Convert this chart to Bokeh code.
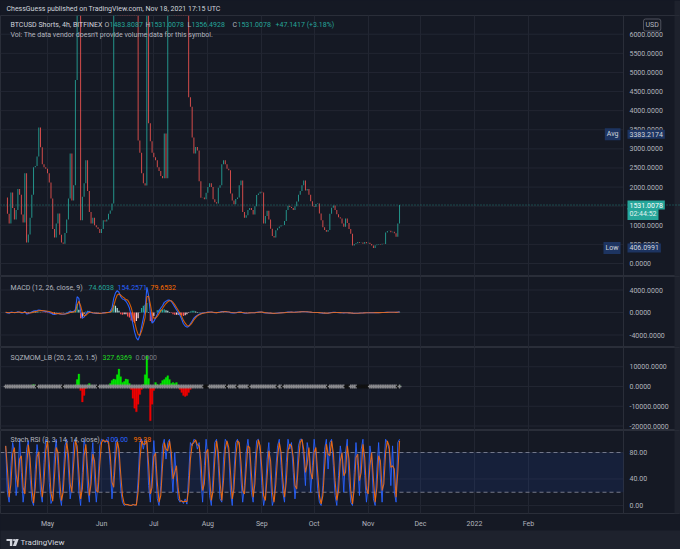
import numpy as np
from bokeh.plotting import figure
from bokeh.models import (Range1d, FixedTicker, Label, Span, BoxAnnotation,
                          ColumnDataSource, GlobalInlineStyleSheet)
from bokeh.core.properties import value
from bokeh.layouts import column
from bokeh.embed import file_html
from bokeh.resources import INLINE

# ---------------- data (one value per day, day 0 = 2021-04-01) ----------------
start_day = 6
close = [
    1730, 1300, 1050, 1860, 1450, 1150, 1400, 1950, 1800, 1280,
    1070, 2360, 550, 760, 1200, 1800, 2520, 2550, 2800, 3560,
    3040, 2600, 2520, 2480, 2360, 2120, 1700, 900, 680, 1050,
    1310, 750, 550, 520, 800, 1150, 1700, 2880, 1650, 2050,
    4800, 7000, 8500, 1130, 1750, 2100, 2700, 1900, 1350, 1050,
    1200, 1000, 950, 900, 800, 900, 1130, 1100, 1150, 1300,
    1390, 1570, 9000, 9500, 10000, 9800, 9200, 8800, 8500, 8200,
    8000, 7800, 7600, 7400, 7200, 7000, 3220, 2900, 2360, 2100,
    2040, 8000, 3670, 3200, 2900, 2780, 2700, 2520, 2420, 2290,
    2230, 3400, 2230, 8000, 9000, 9500, 9800, 9600, 9200, 8800,
    8400, 8000, 7600, 7200, 6800, 4350, 4100, 3300, 2880, 3050,
    2960, 2150, 1720, 1730, 1680, 1850, 2000, 2100, 2000, 1680,
    1600, 1570, 1980, 2050, 2600, 2700, 2600, 2480, 2440, 1830,
    1650, 1550, 1690, 1730, 2050, 2170, 1350, 1200, 1260, 1400,
    1450, 1400, 1280, 1500, 1790, 1830, 1880, 1860, 1050, 1240,
    1380, 1150, 910, 720, 680, 870, 920, 970, 1000, 1010,
    1110, 1400, 1510, 1480, 1450, 1400, 1500, 1620, 1800, 1900,
    2050, 2170, 1910, 1950, 1800, 1630, 1500, 1480, 1560, 1570,
    1310, 1130, 950, 880, 830, 880, 1300, 1460, 1520, 1400,
    1290, 1210, 1180, 1050, 960, 1180, 1060, 900, 780, 470,
    510, 530, 560, 540, 550, 520, 560, 530, 540, 510,
    470, 406, 480, 500, 510, 500, 520, 510, 810, 850,
    860, 820, 830, 790, 700, 1050, 1531,
]
macd = [
    50, -80, -120, 60, 30, -40, 20, 150, 60, -90,
    -60, 200, -250, -200, -50, 100, 250, 300, 350, 450,
    400, 300, 250, 200, 150, 50, -100, -300, -350, -250,
    -150, -250, -300, -320, -250, -150, 0, 250, 150, 200,
    500, 2800, 2500, 200, -1000, -800, -300, 100, 200, 0,
    -80, -120, -150, -160, -170, -130, -60, -30, 0, 50,
    200, 800, 2500, 3500, 3900, 3600, 2800, 2400, 2300, 2000,
    1500, 800, -500, -2000, -3500, -4500, -4900, -4000, -2500, -1000,
    500, 4500, 3000, 0, -1900, -1600, -1000, -300, 300, 800,
    1200, 1800, 2000, 2200, 2200, 2000, 1500, 1000, 500, 0,
    -500, -1200, -2000, -2400, -2600, -2500, -2000, -1500, -1000, -700,
    -500, -300, -200, -100, -50, 0, 60, 90, 80, 20,
    -20, -40, 30, 90, 150, 180, 150, 110, 80, -20,
    -60, -70, -40, 20, 60, 80, -40, -110, -120, -90,
    -50, -40, -50, -20, 40, 70, 90, 90, -30, -90,
    -100, -110, -140, -160, -170, -130, -100, -70, -50, -30,
    -10, 40, 70, 70, 60, 50, 60, 80, 100, 130,
    150, 160, 130, 110, 80, 40, 0, -10, 0, 0,
    -40, -80, -110, -130, -130, -110, -40, 0, 30, 20,
    0, -20, -30, -50, -70, -50, -50, -70, -90, -140,
    -150, -140, -120, -100, -80, -70, -55, -45, -35, -30,
    -28, -30, -26, -20, -15, -12, -8, -6, 30, 45,
    50, 48, 45, 38, 20, 60, 154,
]
signal = [
    30, 0, -40, -10, 5, -10, 0, 50, 60, 20,
    -10, 50, -50, -100, -80, -20, 70, 150, 220, 300,
    340, 330, 300, 270, 230, 170, 80, -40, -150, -200,
    -180, -200, -240, -270, -260, -220, -140, 0, 60, 110,
    150, 1300, 2000, 1200, 0, -600, -500, -200, 50, 50,
    -40, -80, -110, -130, -150, -140, -100, -70, -30, 0,
    50, 300, 1200, 2300, 3100, 3300, 3100, 2800, 2600, 2300,
    2200, 1700, 900, -300, -1700, -3000, -3900, -4100, -3300, -2200,
    -900, 2800, 2900, 1500, -200, -1000, -1000, -700, -200, 300,
    700, 1200, 1600, 1900, 2100, 2100, 1800, 1400, 900, 400,
    -100, -700, -1400, -1900, -2300, -2400, -2200, -1800, -1300, -900,
    -600, -400, -250, -150, -80, -30, 20, 50, 60, 40,
    10, -15, 0, 40, 90, 140, 150, 130, 100, 40,
    -10, -40, -40, -10, 30, 55, 10, -50, -90, -90,
    -70, -55, -50, -35, 0, 35, 65, 80, 20, -40,
    -70, -90, -115, -140, -155, -145, -120, -90, -65, -45,
    -25, 10, 40, 55, 58, 54, 57, 68, 84, 107,
    128, 145, 138, 124, 102, 70, 35, 12, 5, 2,
    -20, -50, -80, -105, -118, -114, -77, -38, -4, 8,
    4, -8, -19, -35, -52, -51, -50, -60, -75, -108,
    -130, -135, -128, -114, -97, -83, -69, -57, -46, -38,
    -33, -31, -28, -24, -19, -15, -11, -8, 11, 28,
    39, 43, 44, 41, 30, 45, 80,
]
sqz_mom = [
    0, 0, 0, 0, 0, 0, 0, 0, 0, 0,
    0, 0, 0, 0, 200, 500, 1000, 400, 0, 0,
    0, 0, 0, 0, 0, 0, 0, 0, 0, 0,
    0, 0, 0, 0, 0, 0, 0, 0, 0, 300,
    800, 3500, 6300, -2000, -7800, -4500, -1000, 800, 1500, 500,
    0, 0, 0, 0, 0, 0, 0, 0, 0, 300,
    1500, 3000, 3800, 3500, 6000, 8800, 5000, 2000, 2500, 3800,
    3500, 1500, -1500, -6000, -11000, -12800, -9000, -4000, -1500, 1000,
    6000, 15500, 4000, -17300, -9000, -2000, 2000, 1000, 500, 1500,
    3000, 3500, 4500, 5500, 3500, 1500, 2000, 1500, 2000, 800,
    -1500, -3000, -4500, -5000, -4500, -3000, -1500, -500, 0, 0,
    0, 0, 0, 0, 0, 0, 0, 0, 0, 0,
    0, 0, 0, 0, 0, 0, 0, 0, 0, 0,
    0, 0, 0, 0, 0, 0, 0, 0, 0, 0,
    0, 0, 0, 0, 0, 0, 0, 0, 0, 0,
    0, 0, 0, 0, 0, 0, 0, 0, 0, 0,
    0, 0, 0, 0, 0, 0, 0, 0, 0, 0,
    0, 0, 0, 0, 0, 0, 0, 0, 0, 0,
    0, 0, 0, 0, 0, 0, 0, 0, 0, 0,
    0, 0, 0, 0, 0, 0, 0, 0, 0, 0,
    0, 0, 0, 0, 0, 0, 0, 0, 0, 0,
    0, 0, 0, 0, 0, 0, 0, 0, 0, 0,
    0, 0, 0, 0, 0, 0, 330,
]
sqz_on_days = [24, 39, 59, 120, 121, 122, 133, 139, 146, 162, 165, 191,
               201, 202, 203, 208, 209, 210, 211, 212, 213, 214, 231]
stoch_k = [
    90, 20, 5, 60, 95, 80, 15, 40, 100, 50,
    5, 30, 85, 98, 45, 8, 0, 55, 92, 70,
    20, 5, 65, 100, 95, 35, 3, 10, 75, 100,
    60, 15, 0, 40, 90, 100, 55, 10, 30, 95,
    100, 80, 20, 0, 50, 100, 85, 25, 5, 60,
    95, 40, 5, 35, 90, 100, 98, 95, 100, 92,
    60, 10, 45, 95, 100, 70, 25, 5, 0, 2,
    1, 0, 0, 2, 0, 1, 40, 95, 100, 85,
    100, 95, 30, 5, 50, 98, 60, 10, 0, 30,
    90, 100, 70, 95, 100, 60, 20, 80, 40, 10,
    5, 8, 3, 10, 2, 45, 95, 90, 100, 98,
    85, 95, 40, 5, 60, 100, 70, 15, 0, 45,
    95, 100, 60, 10, 5, 70, 100, 95, 80, 20,
    0, 50, 95, 100, 90, 40, 5, 30, 80, 100,
    75, 20, 5, 60, 98, 100, 80, 30, 0, 15,
    70, 95, 40, 0, 10, 55, 90, 100, 60, 20,
    5, 65, 100, 85, 95, 50, 10, 40, 90, 100,
    100, 70, 30, 95, 80, 20, 60, 100, 75, 25,
    5, 0, 30, 85, 100, 55, 95, 100, 60, 15,
    0, 45, 90, 70, 20, 80, 100, 40, 5, 0,
    50, 95, 60, 15, 85, 100, 45, 5, 30, 90,
    70, 10, 0, 55, 95, 40, 5, 60, 100, 95,
    85, 30, 90, 20, 5, 95, 100,
]
month_days = [30, 61, 91, 122, 153, 183, 214, 244, 275, 306]
month_labels = ["May", "Jun", "Jul", "Aug", "Sep", "Oct", "Nov", "Dec", "2022", "Feb"]
price_ticks = list(range(0, 6001, 500))
macd_ticks = [-4000, 0, 4000]
sqz_ticks = [-20000, -10000, 0, 10000]
stoch_ticks = [0, 40, 80]
avg_price = 3383.2174
low_price = 406.0991
last_price = 1531.0078
countdown = "02:44:52"

n = len(close)
assert len(macd) == n and len(signal) == n and len(sqz_mom) == n and len(stoch_k) == n
days = np.arange(start_day, start_day + n)

# ---------------- style / layout ----------------
BG = "#151924"
FBG = "#1e222d"
GRID = "#222632"
SEP = "#2a2e39"
TXT = "#b2b5be"
TXT2 = "#d1d4dc"
UP = "#26a69a"
DN = "#ef5350"
FONT = "Roboto"
FS = "7px"
W = 680
KPX = 618 / 354.6            # pixels per day in the reference
X0 = 5.9 - 5 / KPX           # visible time range, left edge of the page
X1 = 5.9 + (W - 5) / KPX
xr = Range1d(X0, X1)


def px2day(px):
    return X0 + px / KPX


SEP_X = px2day(623)
AX_X = px2day(629)


def pane(frame_h, y0, y1, ticks=None, fmt="{:.4f}", xaxis=False, bg=BG):
    p = figure(frame_width=W, frame_height=frame_h, x_range=xr, y_range=Range1d(y0, y1),
               x_axis_location="below" if xaxis else None, y_axis_location=None,
               toolbar_location=None, output_backend="svg",
               background_fill_color=bg, border_fill_color=bg, min_border=0,
               min_border_bottom=14 if xaxis else 0)
    p.outline_line_color = SEP
    p.outline_line_width = 1
    p.ygrid.visible = False
    p.xgrid.ticker = FixedTicker(ticks=month_days)
    p.xgrid.grid_line_color = GRID
    if ticks is not None:
        p.segment(x0=[X0] * len(ticks), x1=[SEP_X] * len(ticks), y0=ticks, y1=ticks,
                  line_color=GRID, line_width=1)
        p.text(x=[AX_X] * len(ticks), y=ticks, text=[fmt.format(t) for t in ticks],
               text_font=value(FONT), text_font_size=value(FS), text_color=TXT,
               text_baseline="middle", text_align="left")
        p.add_layout(Span(location=SEP_X, dimension="height", line_color=SEP, line_width=1))
        p.add_layout(BoxAnnotation(left=674, left_units="screen", fill_color=FBG,
                                   fill_alpha=1, line_color=None))
    if xaxis:
        xa = p.xaxis[0]
        xa.ticker = FixedTicker(ticks=month_days)
        xa.major_label_overrides = {d: l for d, l in zip(month_days, month_labels)}
        xa.axis_line_color = None
        xa.major_tick_line_color = None
        xa.minor_tick_line_color = None
        xa.major_label_text_font = FONT
        xa.major_label_text_font_size = FS
        xa.major_label_text_color = TXT
        xa.major_label_standoff = 0
    return p


def lbl(p, x, y, text, color, size=FS, align="left", yu="screen", bg=None,
        pad=0, border=None, yoff=0):
    L = Label(x=x, y=y, x_units="screen", y_units=yu, text=text, text_color=color,
              text_font=FONT, text_font_size=size, text_align=align,
              text_baseline="middle", y_offset=yoff)
    if bg is not None:
        L.background_fill_color = bg
    if border is not None:
        L.border_line_color = border
        L.border_radius = 2
    if bg is not None or border is not None:
        L.padding = pad
    p.add_layout(L)
    return L


# ---------------- header ----------------
hd = figure(frame_width=W, frame_height=15, x_range=xr, y_range=Range1d(0, 15),
            x_axis_location=None, y_axis_location=None, toolbar_location=None,
            output_backend="svg", min_border=0, background_fill_color=BG,
            border_fill_color=BG)
hd.outline_line_color = None
hd.grid.visible = False
hd.add_layout(BoxAnnotation(left=674, left_units="screen", fill_color=FBG,
                            fill_alpha=1, line_color=None))
lbl(hd, 6, 7, "ChessGuess published on TradingView.com, Nov 18, 2021 17:15 UTC", TXT2)

# ---------------- main price pane ----------------
MH = 261
main = pane(MH, -340, 6490, price_ticks)
opens = [close[0]] + close[:-1]
csrc = ColumnDataSource(dict(
    day=days,
    top=[max(o, c) for o, c in zip(opens, close)],
    bottom=[min(o, c) for o, c in zip(opens, close)],
    color=[UP if c >= o else DN for o, c in zip(opens, close)],
))
main.vbar(x="day", width=0.55, top="top", bottom="bottom", fill_color="color",
          line_color=None, fill_alpha=0.9, source=csrc)
main.add_layout(Span(location=last_price, dimension="width", line_color=UP,
                     line_dash="1 2", line_width=1, line_alpha=0.7))

parts = [(10, "BTCUSD Shorts, 4h, BITFINEX", TXT2), (104, "O", TXT), (109, "1483.8087", UP),
         (145, "H", TXT), (150, "1531.0078", UP), (187, "L", TXT), (191, "1356.4928", UP),
         (232, "C", TXT), (237, "1531.0078", UP), (275, "+47.1417 (+3.18%)", UP)]
for x, t, c in parts:
    lbl(main, x, MH - 9, t, c)
lbl(main, 10, MH - 19, "Vol: The data vendor doesn't provide volume data for this symbol.", TXT)

# price-scale badges
lbl(main, 643, MH - 9.5, "USD", TXT, border="#50535e", pad=2)
lbl(main, 620, avg_price, "Avg", TXT2, align="right", yu="data", bg="#1d3461", pad=2)
lbl(main, 627, avg_price, f"{avg_price:.4f}", TXT2, yu="data", bg="#1d3461", pad=2)
lbl(main, 620, low_price, "Low", TXT2, align="right", yu="data", bg="#1d3461", pad=2)
lbl(main, 627, low_price, f"{low_price:.4f}", TXT2, yu="data", bg="#1d3461", pad=2)
lbl(main, 627, last_price, f"{last_price:.4f}", "#ffffff", yu="data", bg=UP, pad=2)
lbl(main, 627, last_price, countdown, "#e0f2f1", yu="data", bg=UP, pad=2, yoff=-9)

# ---------------- MACD pane ----------------
AH = 71
pm = pane(AH, -6222, 6400, macd_ticks)
hist = [m - s for m, s in zip(macd, signal)]
hcol = []
prev = 0
for h in hist:
    if h >= 0:
        hcol.append("#26a69a" if h >= prev else "#b2dfdb")
    else:
        hcol.append("#ff5252" if h < prev else "#ffcdd2")
    prev = h
pm.vbar(x=days, width=0.7, top=hist, bottom=0, fill_color=hcol, line_color=None)
pm.line(days, macd, line_color="#2962ff", line_width=1.1)
pm.line(days, signal, line_color="#ff6d00", line_width=1.1, line_alpha=0.8)
lbl(pm, 10, AH - 11, "MACD (12, 26, close, 9)", TXT)
lbl(pm, 88, AH - 11, "74.6038", UP)
lbl(pm, 117, AH - 11, "154.2571", "#2962ff")
lbl(pm, 150, AH - 11, "79.6532", "#ff6d00")

# ---------------- SQZMOM pane ----------------
SH = 83
ps = pane(SH, -22278, 19747, sqz_ticks)
scol = ["#00e600" if v >= 0 else "#ee0000" for v in sqz_mom]
ps.vbar(x=days, width=1.0, top=sqz_mom, bottom=0, fill_color=scol, line_color=scol,
        line_width=0.3)
dot_col = ["#111111" if d in sqz_on_days else "#8a8a8e" for d in days]
ps.scatter(days, [0] * n, marker="cross", size=4, line_color=dot_col, line_width=1.5)
lbl(ps, 10, SH - 10, "SQZMOM_LB (20, 2, 20, 1.5)", TXT)
lbl(ps, 102, SH - 10, "327.6369", "#22dd22")
lbl(ps, 135, SH - 10, "0.0000", "#787b86")

# ---------------- Stoch RSI pane ----------------
TH = 83
pt = pane(TH, -12.1, 113.2, stoch_ticks, fmt="{:.2f}", xaxis=True)
pt.add_layout(BoxAnnotation(bottom=20, top=80, right=SEP_X, fill_color="#2962ff",
                            fill_alpha=0.1, line_color=None))
for lv in (80, 20):
    pt.segment(x0=[X0], x1=[SEP_X], y0=[lv], y1=[lv], line_color="#787b86",
               line_dash="4 3", line_width=1)
stoch_d = [stoch_k[0]] + [(a + b) / 2 for a, b in zip(stoch_k[:-1], stoch_k[1:])]
pt.line(days, stoch_k, line_color="#2962ff", line_width=0.9)
pt.line(days, stoch_d, line_color="#ff6d00", line_width=1.1, line_alpha=0.9)
lbl(pt, 10, TH - 9, "Stoch RSI (3, 3, 14, 14, close)", TXT)
lbl(pt, 106, TH - 9, "100.00", "#2962ff")
lbl(pt, 133, TH - 9, "99.38", "#ff6d00")

# ---------------- footer ----------------
ft = figure(frame_width=W, frame_height=22, x_range=Range1d(0, W), y_range=Range1d(0, 22),
            x_axis_location=None, y_axis_location=None, toolbar_location=None,
            output_backend="svg", min_border=0, background_fill_color=FBG,
            border_fill_color=FBG)
ft.outline_line_color = None
ft.grid.visible = False
ft.quad(left=[6, 9.4], right=[11.8, 11.8], top=[13.5, 13.5], bottom=[11.4, 6.5],
        color=TXT2, line_color=None)
ft.circle(x=[13.6], y=[12.4], radius=1.1, color=TXT2, line_color=None)
ft.patch([15.0, 18.2, 15.6, 12.4], [13.5, 13.5, 6.5, 6.5], color=TXT2, line_color=None)
lbl(ft, 20, 10, "TradingView", TXT2, size="8px")

root = column(hd, main, pm, ps, pt, ft, spacing=0)
root.stylesheets = [GlobalInlineStyleSheet(css="html, body { background-color: #151924; }")]

open("out.html", "w").write(file_html(root, INLINE))
